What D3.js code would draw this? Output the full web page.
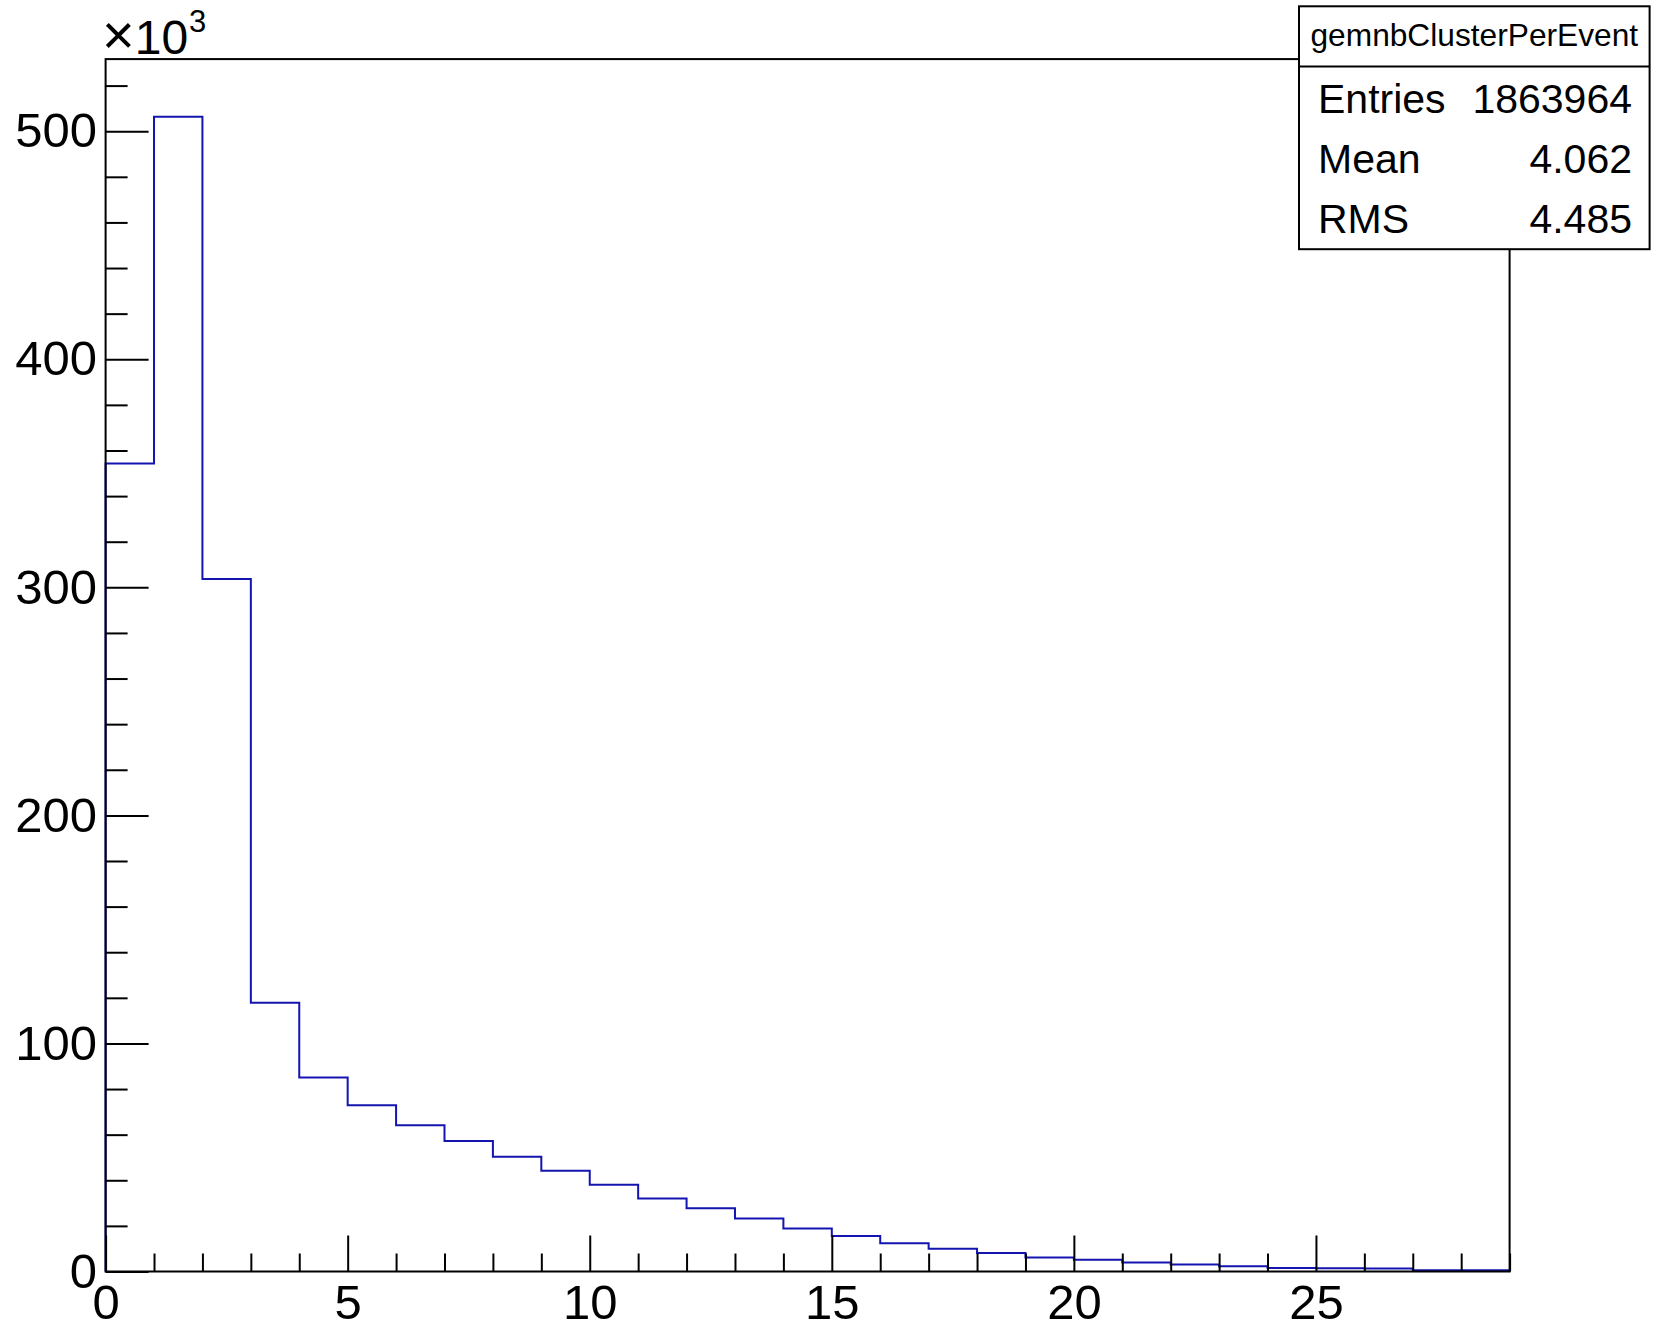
<!DOCTYPE html>
<html>
<head>
<meta charset="utf-8">
<script src="https://cdn.jsdelivr.net/npm/d3@7"></script>
<style>
  html, body { margin: 0; padding: 0; background: #ffffff; }
  svg { display: block; }
  text { font-family: "Liberation Sans", Arial, Helvetica, sans-serif; fill: #000; }
</style>
</head>
<body>
<svg id="chart" width="1656" height="1329"></svg>
<script>
// ---- data (counts in units of 10^3) ----
const histTitle = "gemnbClusterPerEvent";
const xRange = [0, 29];
const binCounts = [354.3, 506.3, 303.7, 117.8, 85.1, 72.9, 64.1, 57.2, 50.3, 44.2,
                   38.0, 32.0, 27.7, 23.2, 18.9, 15.6, 12.4, 10.0, 8.1, 6.1,
                   5.1, 4.0, 3.1, 2.3, 1.5, 1.4, 1.3, 0.6, 0.5];
const xMajorTicks = [0, 5, 10, 15, 20, 25];
const yMajorTicks = [0, 100, 200, 300, 400, 500];
const yExponent = "3";
const statsLabels = ["Entries", "Mean", "RMS"];
const statsValues = ["1863964", "4.062", "4.485"];

// ---- layout ----
const frame = { left: 105.6, right: 1509.6, top: 59.1, bottom: 1271.5 };
const yMax = d3.max(binCounts) * 1.05;

const svg = d3.select("#chart");
svg.append("rect").attr("width", 1656).attr("height", 1329).attr("fill", "#fff");

const x = d3.scaleLinear().domain(xRange).range([frame.left, frame.right]);
const y = d3.scaleLinear().domain([0, yMax]).range([frame.bottom, frame.top]);

const nb = binCounts.length;
const bw = (xRange[1] - xRange[0]) / nb;

// ---- histogram step line ----
const pts = [[xRange[0], 0]];
binCounts.forEach((v, i) => {
  pts.push([xRange[0] + i * bw, v]);
  pts.push([xRange[0] + (i + 1) * bw, v]);
});
pts.push([xRange[1], 0]);
svg.append("path")
  .attr("d", d3.line().x(d => x(d[0])).y(d => y(d[1]))(pts))
  .attr("fill", "none")
  .attr("stroke", "#1414b0")
  .attr("stroke-width", 2);

// ---- axes ----
const fontSize = 49;

// x minor ticks
const xMinor = d3.range(xRange[0], xRange[1] + 1e-9, 1).filter(v => xMajorTicks.indexOf(v) < 0);
const gxMinor = svg.append("g").attr("transform", `translate(0,${frame.bottom})`)
  .call(d3.axisBottom(x).tickValues(xMinor).tickSize(-18).tickFormat(""));
gxMinor.select(".domain").remove();

const gx = svg.append("g").attr("transform", `translate(0,${frame.bottom})`)
  .call(d3.axisBottom(x).tickValues(xMajorTicks).tickSize(-36).tickPadding(13).tickFormat(d3.format("d")));
gx.select(".domain").remove();
gx.selectAll("text").attr("font-size", fontSize).attr("font-family", null);

// y minor ticks
const yMinor = d3.range(0, yMax, 20).filter(v => yMajorTicks.indexOf(v) < 0);
const gyMinor = svg.append("g").attr("transform", `translate(${frame.left},0)`)
  .call(d3.axisLeft(y).tickValues(yMinor).tickSize(-22).tickFormat(""));
gyMinor.select(".domain").remove();

const gy = svg.append("g").attr("transform", `translate(${frame.left},0)`)
  .call(d3.axisLeft(y).tickValues(yMajorTicks).tickSize(-43).tickPadding(8.5).tickFormat(d3.format("d")));
gy.select(".domain").remove();
gy.selectAll("text").attr("font-size", fontSize).attr("font-family", null);

svg.selectAll(".tick line").attr("stroke", "#000").attr("stroke-width", 2);

// frame
svg.append("rect")
  .attr("x", frame.left).attr("y", frame.top)
  .attr("width", frame.right - frame.left).attr("height", frame.bottom - frame.top)
  .attr("fill", "none").attr("stroke", "#000").attr("stroke-width", 2);

// exponent label
const ex = svg.append("text").attr("x", 102).attr("y", 54).attr("font-size", 48);
ex.append("tspan").attr("font-size", 56).text("\u00d7");
ex.append("tspan").text("10");
ex.append("tspan").attr("font-size", 31).attr("dy", -22).attr("dx", 1).text(yExponent);

// ---- stats box ----
const box = { x: 1299, y: 6.3, w: 350.6, h: 242.9, titleLine: 66.5 };
svg.append("rect")
  .attr("x", box.x).attr("y", box.y).attr("width", box.w).attr("height", box.h)
  .attr("fill", "#fff").attr("stroke", "#000").attr("stroke-width", 2);
svg.append("line")
  .attr("x1", box.x).attr("x2", box.x + box.w)
  .attr("y1", box.titleLine).attr("y2", box.titleLine)
  .attr("stroke", "#000").attr("stroke-width", 2);
svg.append("text")
  .attr("x", box.x + box.w / 2).attr("y", 46)
  .attr("text-anchor", "middle").attr("font-size", 31.7)
  .text(histTitle);

const rowBaselines = [112.5, 172.5, 233];
statsLabels.forEach((lab, i) => {
  svg.append("text").attr("x", 1318).attr("y", rowBaselines[i])
    .attr("font-size", 41).text(lab);
  svg.append("text").attr("x", 1632).attr("y", rowBaselines[i])
    .attr("font-size", 41).attr("text-anchor", "end").text(statsValues[i]);
});
</script>
</body>
</html>
